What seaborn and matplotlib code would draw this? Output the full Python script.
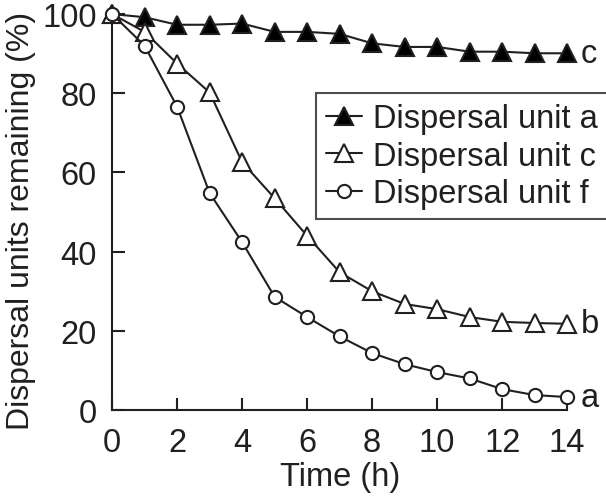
import numpy as np
import pandas as pd
import seaborn as sns
from matplotlib import pyplot as plt

hours = list(range(15))
unit_a = [100, 99.2, 97.3, 97.3, 97.6, 95.5, 95.5, 95.0, 92.6, 91.7, 91.7, 90.5, 90.5, 90.1, 90.1]
unit_c = [100, 95.5, 87.5, 80.2, 62.6, 53.5, 44.0, 34.8, 30.0, 26.8, 25.5, 23.5, 22.3, 22.0, 21.8]
unit_f = [100, 92.0, 76.6, 54.8, 42.4, 28.6, 23.5, 18.6, 14.4, 11.6, 9.6, 8.0, 5.3, 3.8, 3.3]
series_names = ['Dispersal unit a', 'Dispersal unit c', 'Dispersal unit f']
end_letters = ['c', 'b', 'a']

sns.set_theme(style='ticks')
plt.rcParams['font.family'] = ['Liberation Sans', 'DejaVu Sans']

fs = 23.5
ink = '#231f20'

fig = plt.figure(figsize=(6.06, 5.02), dpi=100)
ax = fig.add_axes([0.185, 0.181, 0.751, 0.789])

styles = [dict(marker='^', markersize=13, markerfacecolor='black'),
          dict(marker='^', markersize=13, markerfacecolor='white'),
          dict(marker='o', markersize=9.5, markerfacecolor='white')]

for name, vals, st, letter in zip(series_names, [unit_a, unit_c, unit_f], styles, end_letters):
    df = pd.DataFrame({'t': hours, 'v': vals})
    sns.lineplot(data=df, x='t', y='v', ax=ax, color=ink, linewidth=1.5,
                 markeredgecolor=ink, markeredgewidth=1.5, label=name,
                 clip_on=False, zorder=3, **st)
    # significance letter next to the last point
    ax.text(hours[-1] + 0.42, vals[-1], letter, fontsize=fs, va='center', ha='left', color=ink)

ax.set_xlim(0, 14)
ax.set_ylim(0, 100)
ax.set_xticks(np.arange(0, 15, 2))
ax.set_yticks(np.arange(0, 101, 20))
ax.tick_params(direction='in', length=9, width=1.5, labelsize=fs, colors=ink)
ax.tick_params(axis='x', pad=12)
ax.tick_params(axis='y', pad=11)
for s in ['left', 'bottom']:
    ax.spines[s].set_linewidth(1.5)
    ax.spines[s].set_color(ink)
sns.despine(ax=ax)

ax.set_xlabel('Time (h)', fontsize=fs, color=ink, labelpad=2)
ax.set_ylabel('Dispersal units remaining (%)', fontsize=23, color=ink)
ax.yaxis.set_label_coords(-0.168, 0.48)

leg = ax.legend(loc='upper left', bbox_to_anchor=(0.448, 0.80), fontsize=fs, frameon=True,
                fancybox=False, edgecolor=ink, handlelength=1.1, handletextpad=0.35,
                borderpad=0.3, labelspacing=0.2, borderaxespad=0)
leg.get_frame().set_linewidth(1.5)
for t in leg.get_texts():
    t.set_color(ink)

plt.savefig('out.png', dpi=100)
